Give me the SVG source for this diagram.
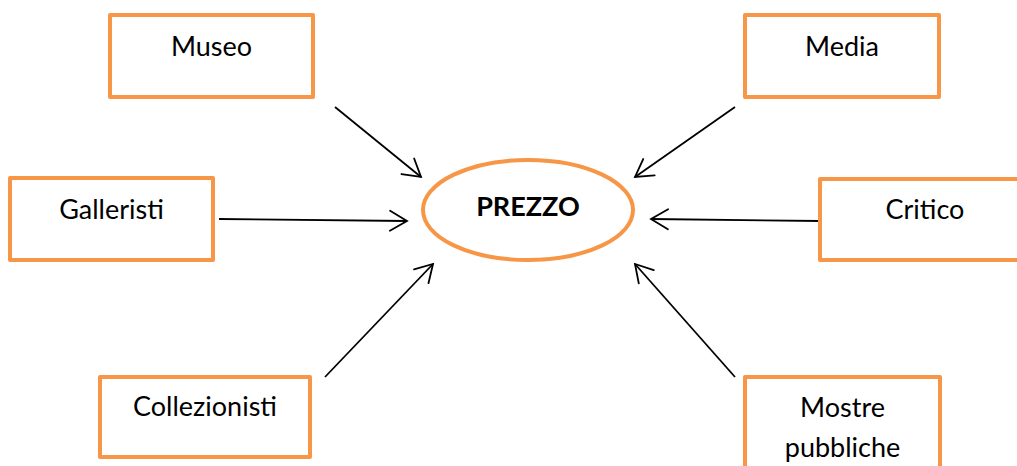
<svg xmlns="http://www.w3.org/2000/svg" width="1017" height="466" viewBox="0 0 1017 466">
  <style>
    .box { fill: #ffffff; stroke: #F79646; stroke-width: 4; stroke-linejoin: round; }
    .hub { fill: #ffffff; stroke: #F79646; stroke-width: 4; }
    .label { font-family: Lato, "Liberation Sans", sans-serif; font-size: 27px; fill: #000000; text-anchor: middle; }
    .bold { font-weight: bold; }
    .link { stroke: #000000; stroke-width: 1.8; fill: none; marker-end: url(#open-arrow); }
  </style>
  <defs>
    <marker id="open-arrow" viewBox="-20 -12 22 24" refX="0" refY="0" markerWidth="22" markerHeight="24" markerUnits="userSpaceOnUse" orient="auto">
      <path d="M -17,-10 L 0,0 L -17,10" fill="none" stroke="#000000" stroke-width="1.8" stroke-linecap="round" stroke-linejoin="miter"/>
    </marker>
  </defs>
  <rect width="1017" height="466" fill="#ffffff"/>

  <g id="connectors">
    <line class="link" x1="335" y1="107" x2="421" y2="177"/>
    <line class="link" x1="735" y1="107" x2="635" y2="177"/>
    <line class="link" x1="219" y1="219" x2="407" y2="221"/>
    <line class="link" x1="820" y1="221" x2="651" y2="219"/>
    <line class="link" x1="325" y1="377" x2="433" y2="264"/>
    <line class="link" x1="735" y1="377" x2="635" y2="264"/>
  </g>

  <g id="prezzo">
    <ellipse class="hub" cx="528" cy="210" rx="105" ry="50"/>
    <text class="label bold" x="528" y="216">PREZZO</text>
  </g>

  <g id="museo">
    <rect class="box" x="110" y="15" width="203" height="82"/>
    <text class="label" x="211.5" y="56">Museo</text>
  </g>

  <g id="media">
    <rect class="box" x="745" y="15" width="194" height="82"/>
    <text class="label" x="842" y="56">Media</text>
  </g>

  <g id="galleristi">
    <rect class="box" x="10" y="178" width="203" height="82"/>
    <text class="label" x="111.5" y="219">Galleristi</text>
  </g>

  <g id="critico">
    <rect class="box" x="820" y="179" width="210" height="81"/>
    <text class="label" x="925" y="219">Critico</text>
  </g>

  <g id="collezionisti">
    <rect class="box" x="100" y="377" width="210" height="80"/>
    <text class="label" x="205" y="416">Collezionisti</text>
  </g>

  <g id="mostre-pubbliche">
    <rect class="box" x="745" y="377" width="195" height="100"/>
    <text class="label" x="842.5" y="417">Mostre</text>
    <text class="label" x="842.5" y="457">pubbliche</text>
  </g>
</svg>
